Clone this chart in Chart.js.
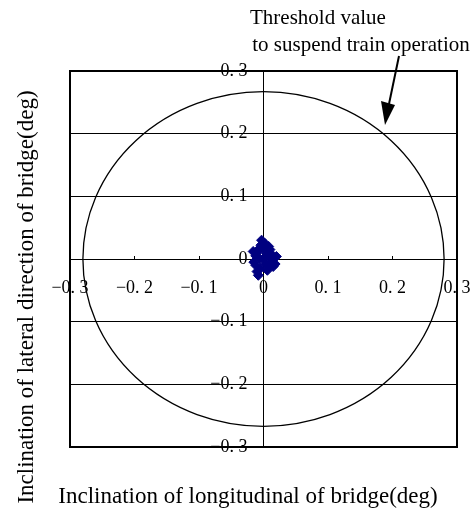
<!DOCTYPE html>
<html>
<head>
<meta charset="utf-8">
<script src="https://cdn.jsdelivr.net/npm/chart.js@4.4.1/dist/chart.umd.min.js"></script>
<style>
  html, body { margin: 0; padding: 0; background: #fff; }
  #wrap { width: 475px; height: 514px; }
</style>
</head>
<body>
<div id="wrap"><canvas id="myChart" width="475" height="514"></canvas></div>
<script>
// inclination readings (deg)
const longitudinal = [0.000, 0.005, -0.008, 0.010, -0.012, 0.015, -0.005, 0.008, -0.015, 0.012,
                      0.002, -0.010, 0.018, -0.003, 0.006, -0.016, 0.004, -0.006, 0.010, -0.012,
                      -0.008, 0.014, -0.004, 0.003, 0.020, -0.002, 0.008, -0.010];
const lateral      = [0.000, 0.010, 0.015, -0.005, 0.005, -0.012, -0.015, 0.020, -0.005, 0.008,
                      0.025, -0.020, -0.008, 0.030, -0.018, 0.012, 0.005, 0.000, 0.015, -0.010,
                      -0.026, 0.002, 0.022, -0.008, 0.004, 0.018, -0.012, 0.010];

const axisTicks = [-0.3, -0.2, -0.1, 0, 0.1, 0.2, 0.3];
const tickLabels = ['\u22120. 3', '\u22120. 2', '\u22120. 1', '0', '0. 1', '0. 2', '0. 3'];

// threshold to suspend train operation (half axes, deg)
const thresholdX = 0.28;
const thresholdY = 0.267;

const xTitle = 'Inclination of longitudinal of bridge(deg)';
const yTitle = 'Inclination of lateral direction of bridge(deg)';
const note = ['Threshold value', ' to suspend train operation'];

const serif = '"Liberation Serif", "DejaVu Serif", serif';

function labelFor(value) {
    const i = axisTicks.findIndex(t => Math.abs(t - value) < 1e-6);
    return i >= 0 ? tickLabels[i] : '';
}

const points = longitudinal.map((x, i) => ({x: x, y: lateral[i]}));

const decorations = {
    id: 'decorations',
    beforeDatasetsDraw(chart) {
        const ctx = chart.ctx;
        const sx = chart.scales.x, sy = chart.scales.y;
        const cx = sx.getPixelForValue(0), cy = sy.getPixelForValue(0);
        const rx = sx.getPixelForValue(thresholdX) - cx;
        const ry = cy - sy.getPixelForValue(thresholdY);
        ctx.save();
        ctx.strokeStyle = '#000';
        ctx.lineWidth = 1.3;
        ctx.beginPath();
        ctx.ellipse(cx, cy, rx, ry, 0, 0, Math.PI * 2);
        ctx.stroke();
        ctx.restore();
    },
    afterDraw(chart) {
        const ctx = chart.ctx;
        const a = chart.chartArea;
        ctx.save();
        // frame
        ctx.strokeStyle = '#000';
        ctx.lineWidth = 2;
        ctx.strokeRect(a.left, a.top, a.right - a.left, a.bottom - a.top);

        ctx.fillStyle = '#000';
        ctx.font = '23px ' + serif;
        ctx.textAlign = 'center';
        ctx.textBaseline = 'middle';
        ctx.fillText(xTitle, 248, 497);

        ctx.save();
        ctx.translate(27, 297);
        ctx.rotate(-Math.PI / 2);
        ctx.fillText(yTitle, 0, 0);
        ctx.restore();

        ctx.font = '21px ' + serif;
        ctx.textAlign = 'left';
        ctx.fillText(note[0], 250, 18);
        ctx.fillText(note[1], 247, 45);

        // arrow to the threshold circle
        ctx.lineWidth = 2;
        ctx.beginPath();
        ctx.moveTo(399, 56);
        ctx.lineTo(389, 104);
        ctx.stroke();
        ctx.beginPath();
        ctx.moveTo(385, 125);
        ctx.lineTo(381, 101);
        ctx.lineTo(395, 105);
        ctx.closePath();
        ctx.fill();
        ctx.restore();
    }
};

const ctx = document.getElementById('myChart').getContext('2d');
const myChart = new Chart(ctx, {
    type: 'scatter',
    data: {
        datasets: [{
            label: 'inclination',
            data: points,
            backgroundColor: '#000080',
            borderColor: '#000080',
            pointStyle: 'rectRot',
            pointRadius: 5,
            borderWidth: 1
        }]
    },
    options: {
        responsive: false,
        animation: false,
        events: [],
        layout: { padding: { left: 70, right: 18, top: 71, bottom: 67 } },
        plugins: { legend: { display: false }, tooltip: { enabled: false } },
        scales: {
            x: {
                type: 'linear',
                position: 'center',
                min: -0.3, max: 0.3,
                afterFit: s => { s.height = 0; s.paddingLeft = 0; s.paddingRight = 0; },
                afterBuildTicks: s => { s.ticks = axisTicks.map(v => ({value: v})); },
                grid: { drawOnChartArea: false, drawTicks: true, tickLength: -4, color: '#000', lineWidth: 1 },
                border: { display: true, color: '#000', width: 1 },
                ticks: {
                    padding: 22,
                    maxRotation: 0,
                    autoSkip: false,
                    color: '#000',
                    font: { family: serif, size: 18 },
                    callback: v => labelFor(v)
                }
            },
            y: {
                type: 'linear',
                position: 'center',
                min: -0.3, max: 0.3,
                afterFit: s => { s.width = 0; s.paddingTop = 0; s.paddingBottom = 0; },
                afterBuildTicks: s => { s.ticks = axisTicks.map(v => ({value: v})); },
                grid: { drawOnChartArea: true, drawTicks: false, color: '#000', lineWidth: 1 },
                border: { display: true, color: '#000', width: 1 },
                ticks: {
                    padding: 16,
                    autoSkip: false,
                    color: '#000',
                    font: { family: serif, size: 18 },
                    callback: v => labelFor(v)
                }
            }
        }
    },
    plugins: [decorations]
});
</script>
</body>
</html>
